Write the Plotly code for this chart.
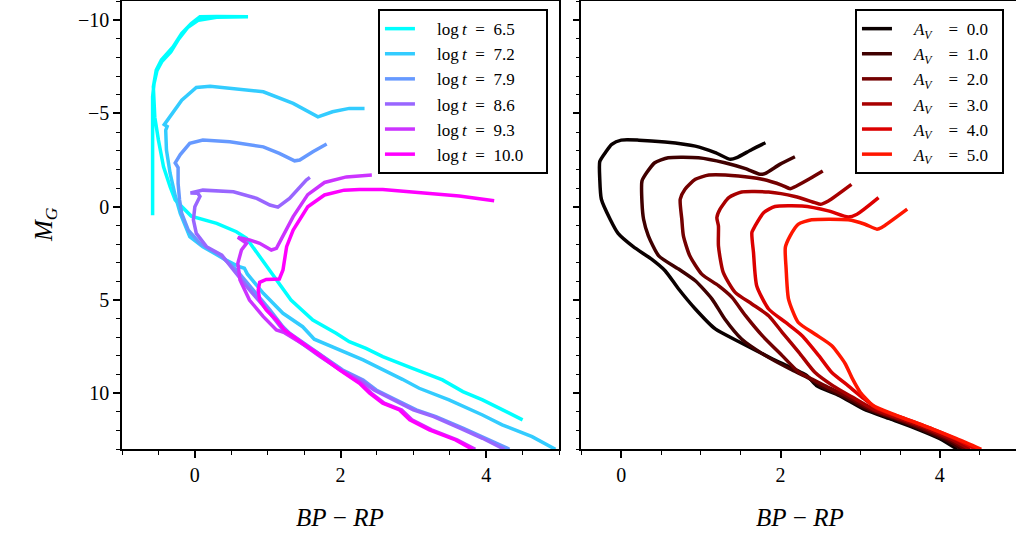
import plotly.graph_objects as go

# ---------------- Left panel: isochrones of different ages ----------------
age_labels = ["6.5", "7.2", "7.9", "8.6", "9.3", "10.0"]
age_colors = ["rgb(0,255,255)", "rgb(51,204,255)", "rgb(102,153,255)",
              "rgb(153,102,255)", "rgb(204,51,255)", "rgb(255,0,255)"]

x_65 = [4.50, 4.22, 3.95, 3.68, 3.40, 2.99, 2.58, 2.35, 2.12, 1.94, 1.62, 1.32, 1.12, 0.89,
        0.71, 0.57, 0.30, -0.05, -0.27, -0.34, -0.43, -0.50, -0.55, -0.57, -0.53, -0.46,
        -0.30, -0.18, -0.05, 0.07, 0.30, 0.73, 0.30, 0.05, -0.10, -0.22, -0.28, -0.33,
        -0.45, -0.52, -0.56, -0.58, -0.58]
y_65 = [11.42, 10.89, 10.35, 9.91, 9.28, 8.66, 8.03, 7.59, 7.23, 6.78, 6.07, 5.0, 3.93, 2.68,
        1.69, 1.34, 0.89, 0.5, -0.36, -1.07, -2.14, -3.57, -4.8, -6.43, -7.32, -7.86,
        -8.57, -9.29, -9.82, -10.18, -10.2, -10.18, -10.15, -10.0, -9.6, -9.0, -8.6, -8.3,
        -7.8, -7.3, -6.6, -5.9, 0.45]

x_72 = [4.95, 4.63, 4.22, 3.95, 3.49, 3.08, 2.85, 2.58, 2.31, 1.64, 1.48, 1.21, 0.94, 0.72,
        0.68, 0.60, 0.43, 0.11, -0.07, -0.20, -0.27, -0.34, -0.39, -0.40, -0.38, -0.42,
        -0.34, -0.18, 0.02, 0.21, 0.94, 1.35, 1.69, 1.89, 2.12, 2.33]
y_72 = [13.0, 12.32, 11.69, 11.16, 10.35, 9.73, 9.25, 8.75, 8.21, 7.1, 6.43, 5.71, 4.64, 3.6,
        3.3, 3.2, 2.86, 2.14, 1.6, 0.36, -0.6, -1.8, -3.04, -4.1, -4.3, -4.4,
        -4.82, -5.71, -6.39, -6.46, -6.16, -5.54, -4.82, -5.09, -5.27, -5.27]

x_79 = [4.32, 4.0, 3.68, 3.31, 3.04, 2.76, 2.49, 2.31, 2.03, 1.76, 1.30, 1.21, 1.03, 0.80,
        0.57, 0.34, 0.07, -0.09, -0.18, -0.21, -0.23, -0.23, -0.27, -0.20, -0.07, 0.11,
        0.48, 0.94, 1.16, 1.37, 1.44, 1.62, 1.81]
y_79 = [13.0, 12.41, 11.87, 11.25, 10.89, 10.35, 9.82, 9.28, 8.75, 8.03, 6.78, 6.43, 5.53, 4.46,
        3.39, 2.59, 1.96, 1.25, 0.36, -0.36, -1.25, -2.1, -2.35, -2.8, -3.4, -3.57,
        -3.48, -3.21, -2.86, -2.46, -2.5, -2.95, -3.36]

x_86 = [4.25, 3.95, 3.64, 3.28, 3.0, 2.72, 2.46, 2.28, 2.0, 1.72, 1.27, 1.21, 1.03, 0.75,
        0.53, 0.37, 0.16, 0.02, -0.02, 0.0, 0.07, 0.04, -0.06, 0.11, 0.53, 0.85, 1.03,
        1.14, 1.30, 1.53, 1.58]
y_86 = [13.0, 12.41, 11.87, 11.25, 10.89, 10.35, 9.82, 9.3, 8.75, 8.03, 6.78, 6.6, 5.71, 4.46,
        3.39, 2.59, 2.14, 1.43, 0.71, 0.0, -0.55, -0.72, -0.74, -0.89, -0.8, -0.45, -0.09,
        0.02, -0.45, -1.43, -1.57]

x_93 = [3.85, 3.60, 3.25, 2.98, 2.84, 2.60, 2.42, 2.28, 2.0, 1.69, 1.23, 1.12, 0.94, 0.75,
        0.62, 0.59, 0.64, 0.71, 0.59, 0.75, 0.89, 1.05, 1.12, 1.21, 1.35, 1.55, 1.78,
        2.08, 2.43]
y_93 = [13.0, 12.5, 11.96, 11.42, 10.89, 10.53, 9.99, 9.46, 8.75, 7.85, 6.75, 6.6, 5.89, 5.0,
        3.93, 3.03, 2.32, 1.96, 1.64, 1.78, 1.96, 2.32, 2.23, 1.6, 0.53, -0.65, -1.3,
        -1.6, -1.7]

x_100 = [3.81, 3.58, 3.22, 2.95, 2.81, 2.58, 2.40, 2.26, 1.99, 1.67, 1.23, 1.12, 0.98, 0.89,
         0.87, 0.89, 0.98, 1.16, 1.21, 1.26, 1.35, 1.55, 1.78, 2.05, 2.26, 2.58, 2.95,
         3.63, 4.11]
y_100 = [13.0, 12.5, 11.96, 11.42, 10.89, 10.53, 9.99, 9.46, 8.75, 7.85, 6.6, 6.07, 5.53, 5.0,
         4.46, 4.05, 3.9, 3.87, 3.39, 2.14, 1.25, 0.0, -0.63, -0.89, -0.93, -0.93, -0.8,
         -0.57, -0.32]

age_x = [x_65, x_72, x_79, x_86, x_93, x_100]
age_y = [y_65, y_72, y_79, y_86, y_93, y_100]

# ---------------- Right panel: log t = 7.9 with extinction ----------------
av_labels = ["0.0", "1.0", "2.0", "3.0", "4.0", "5.0"]
av_colors = ["rgb(10,0,0)", "rgb(64,0,0)", "rgb(115,0,0)",
             "rgb(168,0,0)", "rgb(220,0,0)", "rgb(255,22,0)"]

x_a0 = [4.22, 4.0, 3.71, 3.37, 3.04, 2.74, 2.45, 2.33, 2.03, 1.90, 1.49, 1.18, 0.93, 0.72,
        0.55, 0.38, 0.15, -0.04, -0.14, -0.25, -0.27, -0.27, -0.20, -0.12, 0.0, 0.22, 0.55,
        0.93, 1.18, 1.37, 1.45, 1.64, 1.81]
y_a0 = [13.0, 12.43, 11.9, 11.36, 10.83, 10.12, 9.58, 9.05, 8.42, 8.16, 7.26, 6.55, 5.48, 4.41,
        3.43, 2.81, 2.14, 1.43, 0.67, -0.4, -1.47, -2.42, -2.9, -3.34, -3.57, -3.57, -3.47,
        -3.25, -2.9, -2.54, -2.63, -3.07, -3.43]

x_a1 = [4.28, 4.05, 3.75, 3.42, 3.08, 2.78, 2.50, 2.36, 2.12, 1.81, 1.51, 1.30, 1.14, 0.93,
        0.72, 0.47, 0.34, 0.28, 0.26, 0.26, 0.32, 0.42, 0.59, 0.97, 1.30, 1.56, 1.74, 1.81,
        1.99, 2.18]
y_a1 = [13.0, 12.45, 11.9, 11.36, 10.83, 10.15, 9.6, 9.2, 8.7, 7.98, 7.09, 6.02, 4.95, 3.97,
        3.34, 2.63, 1.56, 0.67, -0.22, -1.38, -1.83, -2.36, -2.63, -2.63, -2.36, -2.04, -1.74,
        -1.79, -2.27, -2.68]

x_a2 = [4.33, 4.10, 3.80, 3.46, 3.12, 2.83, 2.56, 2.40, 2.23, 2.02, 1.77, 1.56, 1.39, 1.22,
        1.01, 0.86, 0.78, 0.76, 0.74, 0.80, 0.93, 1.10, 1.47, 1.77, 2.02, 2.12, 2.20, 2.37,
        2.53]
y_a2 = [13.0, 12.45, 11.9, 11.36, 10.83, 10.15, 9.6, 9.25, 8.87, 7.98, 6.91, 5.84, 4.86, 4.23,
        3.61, 2.63, 1.56, 0.67, -0.4, -0.94, -1.47, -1.7, -1.65, -1.47, -1.15, -0.97, -1.11,
        -1.51, -1.91]

x_a3 = [4.38, 4.14, 3.85, 3.50, 3.16, 2.90, 2.66, 2.43, 2.23, 2.02, 1.85, 1.64, 1.43, 1.28,
        1.22, 1.22, 1.20, 1.24, 1.35, 1.51, 1.85, 2.18, 2.43, 2.50, 2.60, 2.89]
y_a3 = [13.0, 12.45, 11.9, 11.36, 10.83, 10.2, 9.6, 8.87, 7.8, 6.73, 5.84, 5.21, 4.59, 3.52,
        2.1, 1.03, 0.58, 0.13, -0.49, -0.79, -0.79, -0.55, -0.22, -0.13, -0.31, -1.2]

x_a4 = [4.45, 4.20, 3.90, 3.56, 3.22, 3.05, 2.85, 2.64, 2.48, 2.27, 2.06, 1.85, 1.70, 1.66,
        1.64, 1.68, 1.79, 1.93, 2.27, 2.60, 2.85, 2.96, 3.23]
y_a4 = [13.0, 12.45, 11.9, 11.36, 10.83, 10.3, 9.6, 8.87, 7.98, 6.91, 6.19, 5.48, 4.23, 2.45,
        1.38, 1.03, 0.31, -0.01, -0.04, 0.22, 0.55, 0.4, -0.49]

x_a5 = [4.52, 4.21, 3.79, 3.46, 3.16, 3.0, 2.90, 2.81, 2.64, 2.43, 2.22, 2.10, 2.07, 2.06,
        2.12, 2.22, 2.39, 2.85, 3.06, 3.21, 3.27, 3.59]
y_a5 = [13.0, 12.43, 11.72, 11.19, 10.65, 9.94, 9.2, 8.4, 7.44, 6.82, 6.19, 4.95, 3.34, 2.18,
        1.56, 0.94, 0.7, 0.7, 0.94, 1.2, 1.11, 0.13]

av_x = [x_a0, x_a1, x_a2, x_a3, x_a4, x_a5]
av_y = [y_a0, y_a1, y_a2, y_a3, y_a4, y_a5]

FONT = "Liberation Serif"
fig = go.Figure()

for lab, col, xs, ys in zip(age_labels, age_colors, age_x, age_y):
    fig.add_trace(go.Scatter(
        x=xs, y=ys, mode="lines", line=dict(color=col, width=3.5),
        name="\u2003log\u2009<i>t</i>\u2002=\u2002" + lab + "\u2003",
        xaxis="x", yaxis="y", legend="legend"))

for lab, col, xs, ys in zip(av_labels, av_colors, av_x, av_y):
    fig.add_trace(go.Scatter(
        x=xs, y=ys, mode="lines",
        line=dict(color=col, width=3.5, shape="spline", smoothing=0.6),
        name="\u2003<i>A</i><sub><i>V</i></sub>\u2003=\u2002" + lab + "\u2002",
        xaxis="x2", yaxis="y2", legend="legend2"))

ydom = [0.1602, 0.9972]
common = dict(showgrid=False, zeroline=False, showline=True, linecolor="black",
              linewidth=1.5, ticks="outside", ticklen=7, tickwidth=1.5,
              tickcolor="black", tickfont=dict(family=FONT, size=20, color="black"))

legend_common = dict(xanchor="left", yanchor="top", bgcolor="white",
                     bordercolor="black", borderwidth=2, tracegroupgap=0,
                     font=dict(family=FONT, size=17, color="black"))

fig.update_layout(
    width=1016, height=535,
    margin=dict(l=0, r=0, t=0, b=0),
    paper_bgcolor="white", plot_bgcolor="white",
    font=dict(family=FONT, color="black"),
    xaxis=dict(domain=[0.1201, 0.5502], range=[-1, 5], tick0=0, dtick=2, anchor="y",
               mirror=True,
               minor=dict(dtick=0.5, tick0=0, ticklen=4, tickwidth=1.2, ticks="outside",
                          tickcolor="black", showgrid=False),
               **common),
    yaxis=dict(domain=ydom, range=[13, -11], tick0=0, dtick=5, anchor="x", mirror=True,
               minor=dict(dtick=1, tick0=0, ticklen=4, tickwidth=1.2, ticks="outside",
                          tickcolor="black", showgrid=False),
               **common),
    xaxis2=dict(domain=[0.5723, 1.0], range=[-0.5, 4.956], tick0=0, dtick=2, anchor="y2",
                mirror=True,
                minor=dict(dtick=0.5, tick0=0, ticklen=4, tickwidth=1.2, ticks="outside",
                           tickcolor="black", showgrid=False),
                **common),
    yaxis2=dict(domain=ydom, range=[13, -11], tick0=0, dtick=5, anchor="x2",
                showticklabels=False,
                minor=dict(dtick=1, tick0=0, ticklen=4, tickwidth=1.2, ticks="outside",
                           tickcolor="black", showgrid=False),
                **common),
    legend=dict(x=0.372, y=0.983, **legend_common),
    legend2=dict(x=0.8415, y=0.983, **legend_common),
    showlegend=True,
    annotations=[
        dict(text="<i>BP</i> − <i>RP</i>", x=0.3351, y=0.0318, xref="paper", yref="paper",
             showarrow=False, xanchor="center", yanchor="middle",
             font=dict(family=FONT, size=25, color="black")),
        dict(text="<i>BP</i> − <i>RP</i>", x=0.7874, y=0.0318, xref="paper", yref="paper",
             showarrow=False, xanchor="center", yanchor="middle",
             font=dict(family=FONT, size=25, color="black")),
        dict(text="<i>M</i><sub><i>G</i></sub>", x=0.0443, y=0.5794, xref="paper",
             yref="paper", showarrow=False, xanchor="center", yanchor="middle",
             textangle=-90, font=dict(family=FONT, size=25, color="black")),
    ],
)

fig.write_html("out.html", config={"displayModeBar": False},
               post_script="document.body.style.margin='0';")
